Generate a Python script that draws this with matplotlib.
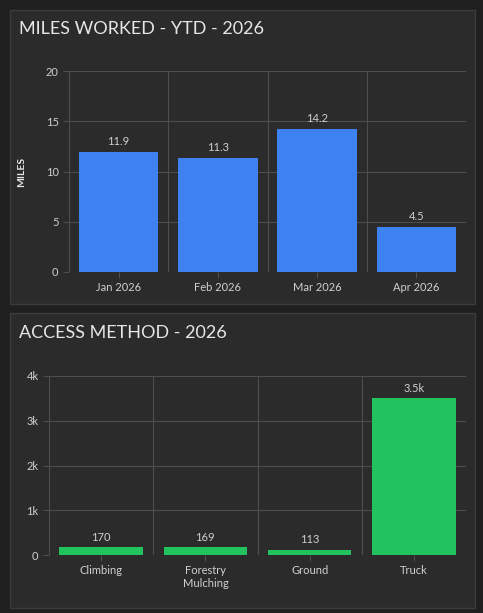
import matplotlib.pyplot as plt
from matplotlib.patches import Rectangle

months = ["Jan 2026", "Feb 2026", "Mar 2026", "Apr 2026"]
miles = [11.9, 11.3, 14.2, 4.5]
miles_labels = ["11.9", "11.3", "14.2", "4.5"]

methods = ["Climbing", "Forestry\nMulching", "Ground", "Truck"]
access = [170, 169, 113, 3500]
access_labels = ["170", "169", "113", "3.5k"]

W, H = 483, 613
BG = "#1f1f1f"
PANEL = "#2b2b2b"
GRID = "#4e4e4e"
TXT = "#d0d0d0"

plt.rcParams["font.family"] = ["Lato", "DejaVu Sans"]

fig = plt.figure(figsize=(W / 100, H / 100), dpi=100, facecolor=BG)


def px(x, y, w, h):
    # pixel box (top-left origin) -> figure fraction
    return [x / W, 1 - (y + h) / H, w / W, h / H]


for (x, y, w, h) in [(10, 10, 465, 294), (10, 313, 465, 295)]:
    b = px(x, y, w, h)
    fig.patches.append(Rectangle((b[0], b[1]), b[2], b[3], transform=fig.transFigure,
                                 facecolor=PANEL, edgecolor="#3c3c3c", lw=1, zorder=-10))

fig.text(19 / W, 1 - 29 / H, "MILES WORKED - YTD - 2026", color="#e6e6e6",
         fontsize=13, va="center", ha="left")
fig.text(19 / W, 1 - 333 / H, "ACCESS METHOD - 2026", color="#e6e6e6",
         fontsize=13, va="center", ha="left")


def style(ax):
    ax.set_facecolor("none")
    for s in ax.spines.values():
        s.set_visible(False)
    ax.tick_params(colors=GRID, labelcolor=TXT, labelsize=8, length=4)
    ax.set_axisbelow(True)
    ax.grid(axis="y", color=GRID, lw=0.8)
    n = len(ax.patches)
    for e in range(n + 1):
        ax.axvline(e - 0.5, color=GRID, lw=0.8, zorder=0)


ax1 = fig.add_axes(px(69, 71, 397, 201))
ax1.bar(range(4), miles, width=0.8, color="#3d82f0", zorder=2)
ax1.set_ylim(0, 20)
ax1.set_xlim(-0.5, 3.5)
ax1.set_yticks([0, 5, 10, 15, 20])
ax1.set_xticks(range(4), months)
style(ax1)
ax1.set_ylabel("MILES", color="#e6e6e6", fontsize=7.5, fontweight="bold", labelpad=14)
for i, (v, t) in enumerate(zip(miles, miles_labels)):
    ax1.text(i, v + 0.5, t, ha="center", va="bottom", color=TXT, fontsize=8)

ax2 = fig.add_axes(px(49, 376, 417, 179))
ax2.bar(range(4), access, width=0.8, color="#22c35e", zorder=2)
ax2.set_ylim(0, 4000)
ax2.set_xlim(-0.5, 3.5)
ax2.set_yticks([0, 1000, 2000, 3000, 4000], ["0", "1k", "2k", "3k", "4k"])
ax2.set_xticks(range(4), methods)
style(ax2)
for i, (v, t) in enumerate(zip(access, access_labels)):
    ax2.text(i, v + 100, t, ha="center", va="bottom", color=TXT, fontsize=8)

fig.savefig("out.png", dpi=100, facecolor=BG)
